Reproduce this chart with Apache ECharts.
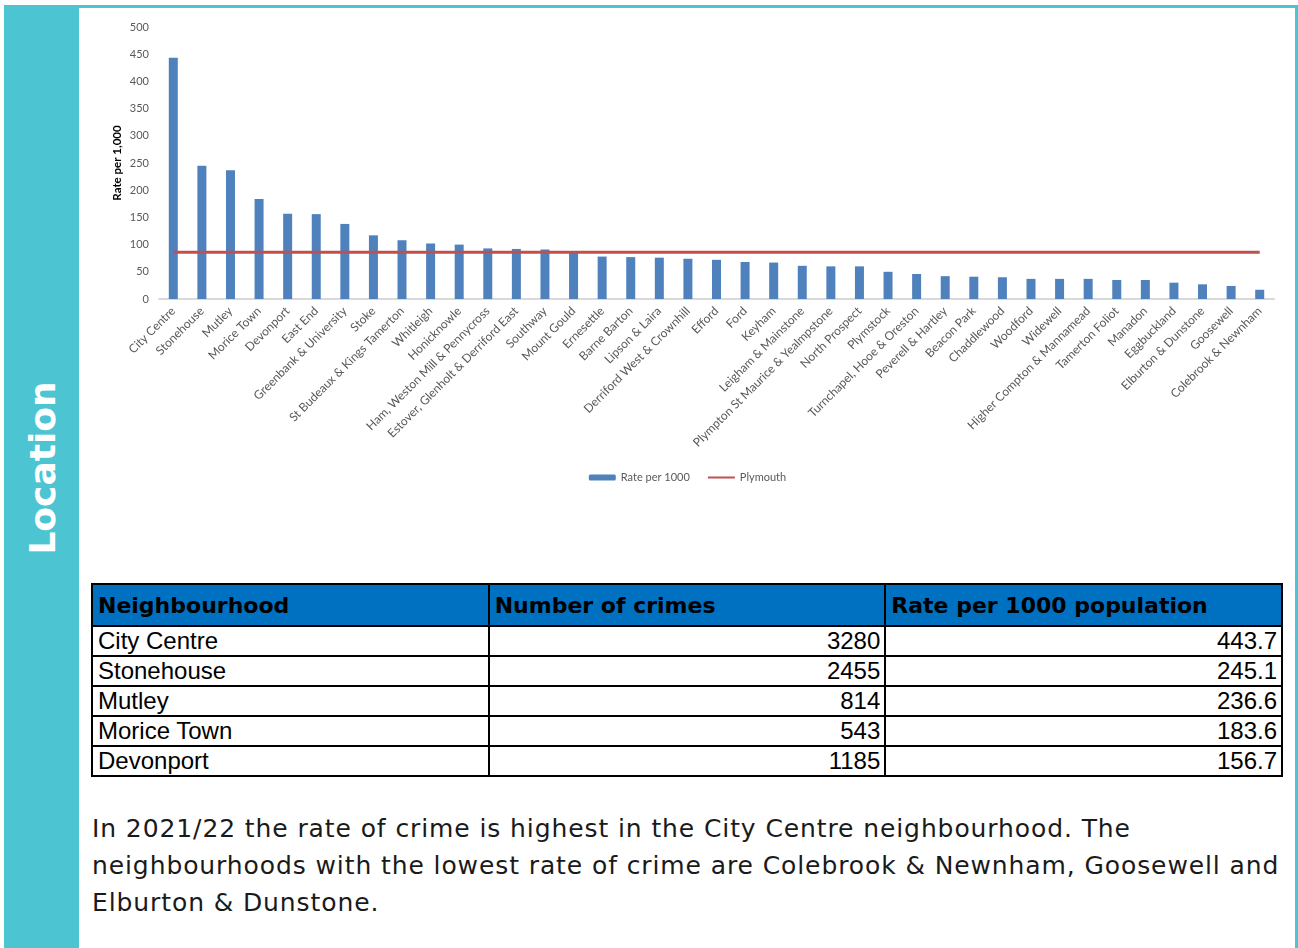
<!DOCTYPE html>
<html>
<head>
<meta charset="utf-8">
<script src="https://cdn.jsdelivr.net/npm/echarts@6/dist/echarts.min.js"></script>
<style>
  html, body { margin: 0; padding: 0; background: #ffffff; width: 1298px; height: 948px; overflow: hidden; position: relative; }
  #band { position: absolute; left: 4px; top: 5px; width: 75px; height: 943px; background: #4DC4D2; }
  #topbar { position: absolute; left: 4px; top: 5px; width: 1294px; height: 3px; background: #4DC4D2; }
  #rightbar { position: absolute; left: 1295px; top: 5px; width: 3px; height: 943px; background: #4DC4D2; }
  #label { position: absolute; left: 42px; top: 468px; transform: translate(-50%, -50%) rotate(-90deg); color: #ffffff; font-family: "DejaVu Sans", Verdana, sans-serif; font-weight: bold; font-size: 36px; white-space: nowrap; }
  #chart { position: absolute; left: 80px; top: 8px; width: 1215px; height: 500px; }
  #tbl { position: absolute; left: 91px; top: 583px; border-collapse: collapse; width: 1192px; table-layout: fixed; }
  #tbl th, #tbl td { border: 2px solid #000; padding: 0 4px 0 5px; vertical-align: middle; overflow: hidden; white-space: nowrap; }
  #tbl th { background: #0070C0; color: #000; font-family: "DejaVu Sans", Verdana, sans-serif; font-weight: bold; font-size: 22px; height: 38px; text-align: left; line-height: 24px; padding-top: 2px; }
  #tbl td { font-family: "Liberation Sans", Arial, sans-serif; font-size: 24px; height: 28px; line-height: 28px; color: #000; }
  #tbl td.num { text-align: right; }
  #para { position: absolute; left: 92px; top: 810px; width: 1200px; font-family: "DejaVu Sans", Verdana, sans-serif; font-size: 25px; letter-spacing: 0.9px; line-height: 37px; color: #1a1a1a; white-space: nowrap; }
</style>
</head>
<body>
<div id="band"></div>
<div id="topbar"></div>
<div id="rightbar"></div>
<div id="label">Location</div>
<div id="chart"></div>
<table id="tbl"></table>
<div id="para"></div>
<script>
// ---- data ----
var neighbourhoods = [
  'City Centre', 'Stonehouse', 'Mutley', 'Morice Town', 'Devonport', 'East End',
  'Greenbank & University', 'Stoke', 'St Budeaux & Kings Tamerton', 'Whitleigh', 'Honicknowle',
  'Ham, Weston Mill & Pennycross', 'Estover, Glenholt & Derriford East', 'Southway', 'Mount Gould',
  'Ernesettle', 'Barne Barton', 'Lipson & Laira', 'Derriford West & Crownhill', 'Efford', 'Ford',
  'Keyham', 'Leigham & Mainstone', 'Plympton St Maurice & Yealmpstone', 'North Prospect', 'Plymstock',
  'Turnchapel, Hooe & Oreston', 'Peverell & Hartley', 'Beacon Park', 'Chaddlewood', 'Woodford',
  'Widewell', 'Higher Compton & Mannamead', 'Tamerton Foliot', 'Manadon', 'Eggbuckland',
  'Elburton & Dunstone', 'Goosewell', 'Colebrook & Newnham'
];
var ratePer1000 = [
  443.7, 245.1, 236.6, 183.6, 156.7, 156,
  138, 117, 108, 102, 100,
  93, 92, 91, 85,
  78, 77, 76, 74, 72, 68,
  67, 61, 60, 60, 50,
  46, 42, 41, 40, 37,
  37, 37, 35, 35, 30,
  27, 24, 17
];
var plymouthRate = 86;
var yTicks = { min: 0, max: 500, interval: 50 };
var legendNames = ['Rate per 1000', 'Plymouth'];
var yAxisTitle = 'Rate per 1,000';

var tableHeaders = ['Neighbourhood', 'Number of crimes', 'Rate per 1000 population'];
var tableNames = ['City Centre', 'Stonehouse', 'Mutley', 'Morice Town', 'Devonport'];
var tableCrimes = ['3280', '2455', '814', '543', '1185'];
var tableRates = ['443.7', '245.1', '236.6', '183.6', '156.7'];

var paragraphLines = [
  'In 2021/22 the rate of crime is highest in the City Centre neighbourhood. The',
  'neighbourhoods with the lowest rate of crime are Colebrook & Newnham, Goosewell and',
  'Elburton & Dunstone.'
];

// ---- table & paragraph ----
(function () {
  var t = document.getElementById('tbl');
  var h = '<tr>' + tableHeaders.map(function (x) { return '<th>' + x + '</th>'; }).join('') + '</tr>';
  for (var i = 0; i < tableNames.length; i++) {
    h += '<tr><td>' + tableNames[i] + '</td><td class="num">' + tableCrimes[i] + '</td><td class="num">' + tableRates[i] + '</td></tr>';
  }
  t.innerHTML = h;
  var p = document.getElementById('para');
  p.innerHTML = paragraphLines.map(function (l) { return l.replace(/&/g, '&amp;'); }).join('<br>');
})();

// ---- chart ----
var chart = echarts.init(document.getElementById('chart'), null, { renderer: 'canvas' });
var lineData = neighbourhoods.map(function () { return plymouthRate; });
chart.setOption({
  animation: false,
  textStyle: { fontFamily: 'Lato, "Liberation Sans", sans-serif' },
  grid: { left: 79, right: 21, top: 19, height: 272, containLabel: false },
  legend: {
    data: [legendNames[0], { name: legendNames[1], itemStyle: { opacity: 0 } }],
    top: 459,
    left: 'center',
    itemWidth: 27,
    itemHeight: 6,
    itemGap: 17,
    textStyle: { color: '#595959', fontSize: 11 }
  },
  xAxis: {
    type: 'category',
    data: neighbourhoods,
    axisTick: { show: false },
    axisLine: { lineStyle: { color: '#D9D9D9', width: 2 } },
    axisLabel: { rotate: 45, interval: 0, color: '#595959', fontSize: 12, margin: 10 }
  },
  yAxis: {
    type: 'value',
    min: yTicks.min,
    max: yTicks.max,
    interval: yTicks.interval,
    name: yAxisTitle,
    nameLocation: 'middle',
    nameRotate: 90,
    nameGap: 36,
    nameMoveOverlap: false,
    nameTextStyle: { color: '#000', fontWeight: 'bold', fontSize: 11.5 },
    splitLine: { show: false },
    axisLine: { show: false },
    axisTick: { show: false },
    axisLabel: { color: '#595959', fontSize: 11, margin: 10 }
  },
  series: [
    {
      name: legendNames[0],
      type: 'bar',
      data: ratePer1000,
      barWidth: 9,
      itemStyle: { color: '#4F81BD' }
    },
    {
      name: legendNames[1],
      type: 'line',
      data: lineData,
      symbol: 'none',
      lineStyle: { color: '#C0504D', width: 3 },
      itemStyle: { color: '#C0504D' }
    }
  ]
});
</script>
</body>
</html>
